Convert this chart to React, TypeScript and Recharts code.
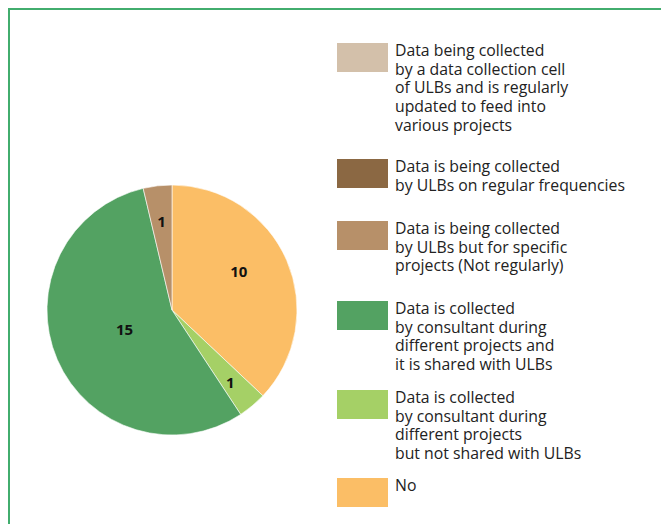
import { Cell, Legend, Pie, PieChart } from "recharts";

// legend order (top to bottom)
const categories = [
  "Data being collected\nby a data collection cell\nof ULBs and is regularly\nupdated to feed into\nvarious projects",
  "Data is being collected\nby ULBs on regular frequencies",
  "Data is being collected\nby ULBs but for specific\nprojects (Not regularly)",
  "Data is collected\nby consultant during\ndifferent projects and\nit is shared with ULBs",
  "Data is collected\nby consultant during\ndifferent projects\nbut not shared with ULBs",
  "No",
];
const counts = [0, 0, 1, 15, 1, 10];
const colors = ["#d3c0aa", "#8b6843", "#b79069", "#53a262", "#a5d066", "#fbbe66"];

// label placement tweaks (Excel best fit look): share of radius, angle nudge in degrees
const labelRadius = [0.7, 0.7, 0.72, 0.41, 0.74, 0.62];
const labelNudge = [0, 0, 0, -1, -1, 7];
// legend item offsets from the top of the legend block
const legendTops = [0, 116, 178, 258, 347, 435];

const FONT = "'Open Sans', sans-serif";

// pie runs clockwise from 12 o'clock: No, light green, green, tan...
const pieData = categories
  .map((name, i) => ({ name, value: counts[i], color: colors[i], idx: i }))
  .reverse();

const RAD = Math.PI / 180;

function renderLabel(props: any) {
  const { cx, cy, midAngle, outerRadius, value, payload } = props;
  if (!value) return null;
  const idx = payload?.idx ?? props.idx;
  const r = outerRadius * labelRadius[idx];
  const a = (midAngle + labelNudge[idx]) * RAD;
  const x = cx + r * Math.cos(-a);
  const y = cy + r * Math.sin(-a);
  return (
    <text
      x={x}
      y={y}
      textAnchor="middle"
      dominantBaseline="central"
      fill="#111"
      fontFamily={FONT}
      fontWeight={700}
      fontSize={15}
    >
      {value}
    </text>
  );
}

function LegendBox() {
  return (
    <div style={{ position: "relative", width: 300, height: 470 }}>
      {categories.map((name, i) => (
        <div
          key={i}
          style={{ position: "absolute", top: legendTops[i], left: 0, display: "flex" }}
        >
          <div
            style={{
              width: 51,
              height: 29,
              background: colors[i],
              marginTop: 2,
              flexShrink: 0,
            }}
          />
          <div
            style={{
              marginLeft: 7,
              whiteSpace: "pre-line",
              fontFamily: FONT,
              fontSize: 15.8,
              lineHeight: "18.7px",
              color: "#222",
            }}
          >
            {name}
          </div>
        </div>
      ))}
    </div>
  );
}

export default function App() {
  return (
    <div
      style={{
        width: 655,
        height: 520,
        border: "2px solid #42ad6e",
        background: "#fff",
        overflow: "hidden",
      }}
    >
      <PieChart width={655} height={520}>
        <Pie
          data={pieData}
          dataKey="value"
          nameKey="name"
          cx={157}
          cy={295}
          outerRadius={125}
          startAngle={90}
          endAngle={-270}
          stroke="#ffffff"
          strokeWidth={0.6}
          label={renderLabel}
          labelLine={false}
          isAnimationActive={false}
        >
          {pieData.map((d) => (
            <Cell key={d.idx} fill={d.color} />
          ))}
        </Pie>
        <Legend
          content={<LegendBox />}
          layout="vertical"
          wrapperStyle={{ left: 327, top: 31, width: 300 }}
        />
      </PieChart>
    </div>
  );
}
